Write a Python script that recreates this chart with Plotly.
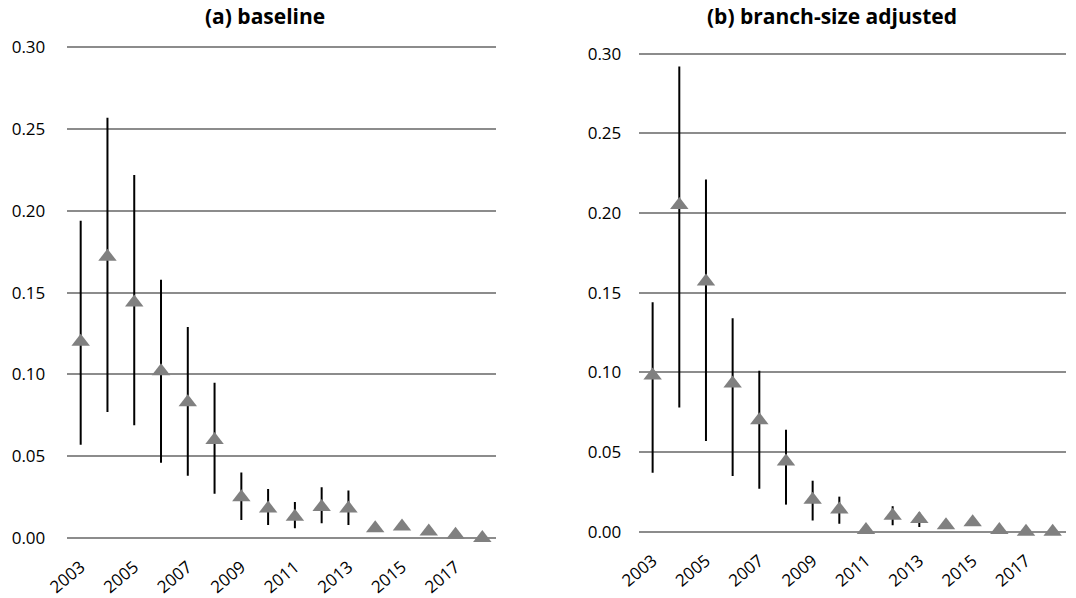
import plotly.graph_objects as go

years = list(range(2003, 2019))
tick_years = [2003, 2005, 2007, 2009, 2011, 2013, 2015, 2017]
y_ticks = [0.0, 0.05, 0.10, 0.15, 0.20, 0.25, 0.30]

# (a) baseline: point estimate, upper and lower bounds
a_val = [0.120, 0.172, 0.144, 0.102, 0.083, 0.060, 0.025, 0.018, 0.013, 0.019, 0.018, 0.006, 0.007, 0.004, 0.002, 0.000]
a_hi = [0.194, 0.257, 0.222, 0.158, 0.129, 0.095, 0.040, 0.030, 0.022, 0.031, 0.029, 0.006, 0.007, 0.004, 0.002, 0.000]
a_lo = [0.057, 0.077, 0.069, 0.046, 0.038, 0.027, 0.011, 0.008, 0.006, 0.009, 0.008, 0.006, 0.007, 0.004, 0.002, 0.000]

# (b) branch-size adjusted
b_val = [0.098, 0.205, 0.157, 0.093, 0.070, 0.044, 0.020, 0.014, 0.001, 0.010, 0.008, 0.004, 0.006, 0.001, 0.000, 0.000]
b_hi = [0.144, 0.292, 0.221, 0.134, 0.101, 0.064, 0.032, 0.022, 0.001, 0.016, 0.012, 0.004, 0.006, 0.001, 0.000, 0.000]
b_lo = [0.037, 0.078, 0.057, 0.035, 0.027, 0.017, 0.007, 0.005, 0.001, 0.004, 0.003, 0.004, 0.006, 0.001, 0.000, 0.000]

W, H = 1076, 598
FONT = "Open Sans"
PAD = 0.0012

fig = go.Figure()

def add_panel(vals, hi, lo, xa, ya):
    fig.add_trace(go.Scatter(
        x=years, y=vals, mode="markers",
        marker=dict(symbol="triangle-up", size=16, color="#808080", line=dict(width=0)),
        error_y=dict(type="data", symmetric=False,
                     array=[h - v for h, v in zip(hi, vals)],
                     arrayminus=[v - l for v, l in zip(vals, lo)],
                     color="black", thickness=2, width=0),
        xaxis=xa, yaxis=ya, cliponaxis=False, showlegend=False,
    ))

add_panel(a_val, a_hi, a_lo, "x", "y")
add_panel(b_val, b_hi, b_lo, "x2", "y2")

def px(v, total):
    return v / total

xcommon = dict(range=[2002.5, 2018.5], tickvals=tick_years, ticktext=[str(t) for t in tick_years],
               tickangle=-40, showgrid=False, zeroline=False, showline=False, ticks="",
               ticklabelstandoff=13,
               tickfont=dict(family=FONT, size=17, color="black"), automargin=False)
ycommon = dict(range=[-PAD, 0.30 + PAD], tickvals=y_ticks, ticktext=["%.2f" % t for t in y_ticks],
               showgrid=True, gridcolor="#8c8c8c", gridwidth=1.5, zeroline=False, showline=False,
               ticks="", tickfont=dict(family=FONT, size=17, color="black"), automargin=False)

def ydom(top_px, bot_px):
    span = bot_px - top_px
    unit = span / 0.30
    return [1 - px(bot_px + PAD * unit, H), 1 - px(top_px - PAD * unit, H)]

fig.update_layout(
    width=W, height=H,
    margin=dict(l=0, r=0, t=0, b=0),
    paper_bgcolor="white", plot_bgcolor="white",
    xaxis=dict(domain=[px(67.3, W), px(495.7, W)], anchor="y", **xcommon),
    yaxis=dict(domain=ydom(47.5, 538), anchor="x", ticklabelstandoff=21, **ycommon),
    xaxis2=dict(domain=[px(639.3, W), px(1066, W)], anchor="y2", **xcommon),
    yaxis2=dict(domain=ydom(53.7, 531.7), anchor="x2", ticklabelstandoff=17, **ycommon),
    annotations=[
        dict(text="<b>(a) baseline</b>", x=px(265, W), y=1 - px(16, H), xref="paper", yref="paper",
             xanchor="center", yanchor="middle", showarrow=False, font=dict(family=FONT, size=21, color="black")),
        dict(text="<b>(b) branch-size adjusted</b>", x=px(831.7, W), y=1 - px(16, H), xref="paper", yref="paper",
             xanchor="center", yanchor="middle", showarrow=False, font=dict(family=FONT, size=21, color="black")),
    ],
)

fig.write_html("out.html")
